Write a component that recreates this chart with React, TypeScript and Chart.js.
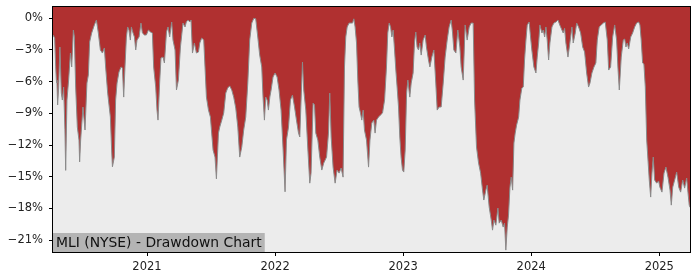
import React, { useEffect, useRef } from "react";
import { Chart, registerables } from "chart.js";

Chart.register(...registerables);

const title = "MLI (NYSE) - Drawdown Chart";
const yearTicks = [2021, 2022, 2023, 2024, 2025];
const pctTicks = [-21, -18, -15, -12, -9, -6, -3, 0];

// dates as decimal years
const dates = [
  2020.266, 2020.279, 2020.287, 2020.292, 2020.297, 2020.302, 2020.31, 2020.32, 2020.331, 2020.339,
  2020.349, 2020.359, 2020.365, 2020.375, 2020.388, 2020.402, 2020.412, 2020.425, 2020.433, 2020.443,
  2020.456, 2020.469, 2020.474, 2020.482, 2020.5, 2020.516, 2020.531, 2020.542, 2020.552, 2020.568,
  2020.589, 2020.605, 2020.62, 2020.636, 2020.652, 2020.667, 2020.677, 2020.693, 2020.714, 2020.724,
  2020.73, 2020.745, 2020.755, 2020.766, 2020.781, 2020.797, 2020.808, 2020.818, 2020.828, 2020.839,
  2020.849, 2020.859, 2020.87, 2020.878, 2020.891, 2020.902, 2020.912, 2020.922, 2020.938, 2020.953,
  2020.964, 2020.98, 2020.995, 2021.011, 2021.027, 2021.042, 2021.052, 2021.068, 2021.078, 2021.086,
  2021.099, 2021.109, 2021.125, 2021.136, 2021.152, 2021.164, 2021.177, 2021.193, 2021.203, 2021.219,
  2021.23, 2021.245, 2021.261, 2021.281, 2021.297, 2021.307, 2021.32, 2021.334, 2021.344, 2021.355,
  2021.37, 2021.386, 2021.402, 2021.412, 2021.427, 2021.443, 2021.464, 2021.48, 2021.495, 2021.505,
  2021.516, 2021.531, 2021.542, 2021.558, 2021.568, 2021.584, 2021.599, 2021.615, 2021.63, 2021.646,
  2021.662, 2021.677, 2021.693, 2021.709, 2021.724, 2021.74, 2021.755, 2021.771, 2021.787, 2021.802,
  2021.818, 2021.834, 2021.849, 2021.865, 2021.88, 2021.896, 2021.906, 2021.917, 2021.927, 2021.938,
  2021.948, 2021.959, 2021.969, 2021.984, 2022.0, 2022.016, 2022.031, 2022.047, 2022.063, 2022.078,
  2022.089, 2022.105, 2022.12, 2022.136, 2022.152, 2022.167, 2022.183, 2022.193, 2022.203, 2022.214,
  2022.224, 2022.24, 2022.255, 2022.271, 2022.281, 2022.297, 2022.308, 2022.318, 2022.334, 2022.349,
  2022.365, 2022.38, 2022.402, 2022.417, 2022.427, 2022.438, 2022.453, 2022.469, 2022.484, 2022.5,
  2022.516, 2022.531, 2022.542, 2022.552, 2022.563, 2022.578, 2022.594, 2022.605, 2022.615, 2022.625,
  2022.636, 2022.646, 2022.656, 2022.667, 2022.677, 2022.688, 2022.698, 2022.714, 2022.73, 2022.741,
  2022.755, 2022.771, 2022.781, 2022.792, 2022.808, 2022.823, 2022.839, 2022.855, 2022.87, 2022.88,
  2022.891, 2022.902, 2022.912, 2022.922, 2022.933, 2022.943, 2022.953, 2022.964, 2022.974, 2022.984,
  2022.995, 2023.005, 2023.016, 2023.027, 2023.037, 2023.052, 2023.063, 2023.078, 2023.089, 2023.099,
  2023.109, 2023.12, 2023.13, 2023.141, 2023.156, 2023.172, 2023.182, 2023.198, 2023.209, 2023.224,
  2023.24, 2023.255, 2023.266, 2023.281, 2023.297, 2023.313, 2023.328, 2023.344, 2023.359, 2023.375,
  2023.386, 2023.396, 2023.412, 2023.427, 2023.443, 2023.453, 2023.469, 2023.484, 2023.5, 2023.516,
  2023.531, 2023.547, 2023.558, 2023.573, 2023.589, 2023.605, 2023.62, 2023.63, 2023.646, 2023.656,
  2023.672, 2023.688, 2023.698, 2023.709, 2023.724, 2023.74, 2023.75, 2023.766, 2023.781, 2023.792,
  2023.802, 2023.813, 2023.823, 2023.834, 2023.844, 2023.855, 2023.865, 2023.875, 2023.886, 2023.902,
  2023.912, 2023.927, 2023.938, 2023.948, 2023.959, 2023.969, 2023.984, 2023.995, 2024.005, 2024.021,
  2024.037, 2024.047, 2024.058, 2024.068, 2024.084, 2024.094, 2024.105, 2024.115, 2024.125, 2024.136,
  2024.146, 2024.162, 2024.177, 2024.193, 2024.209, 2024.223, 2024.24, 2024.25, 2024.261, 2024.271,
  2024.287, 2024.302, 2024.318, 2024.328, 2024.344, 2024.355, 2024.37, 2024.386, 2024.402, 2024.417,
  2024.433, 2024.448, 2024.459, 2024.474, 2024.49, 2024.505, 2024.516, 2024.531, 2024.547, 2024.563,
  2024.578, 2024.594, 2024.605, 2024.62, 2024.636, 2024.652, 2024.667, 2024.677, 2024.688, 2024.703,
  2024.719, 2024.73, 2024.74, 2024.75, 2024.761, 2024.777, 2024.792, 2024.808, 2024.823, 2024.839,
  2024.849, 2024.859, 2024.87, 2024.88, 2024.891, 2024.902, 2024.912, 2024.922, 2024.933, 2024.943,
  2024.953, 2024.964, 2024.98, 2024.995, 2025.005, 2025.021, 2025.037, 2025.052, 2025.068, 2025.084,
  2025.094, 2025.105, 2025.12, 2025.136, 2025.152, 2025.167, 2025.183, 2025.198, 2025.214, 2025.224,
  2025.234, 2025.24,
];

// drawdown in percent
const drawdown = [
  -1.58, -1.87, -4.59, -5.85, -6.13, -8.21, -6.6, -2.72, -7.08, -7.74,
  -6.51, -10.5, -14.4, -7.74, -5.85, -3.29, -4.61, -1.11, -1.77, -6.51,
  -10.3, -11.53, -13.6, -11.5, -8.4, -10.58, -6.13, -5.37, -2.25, -1.39,
  -0.63, -0.16, -1.39, -3.0, -3.29, -2.81, -4.61, -7.08, -9.35, -12.48,
  -14.06, -13.14, -7.74, -6.13, -5.09, -4.61, -4.7, -7.46, -4.61, -1.77,
  -0.82, -1.11, -2.06, -0.82, -1.39, -1.77, -3.0, -2.06, -1.77, -0.45,
  -1.39, -1.58, -1.58, -1.11, -1.3, -1.39, -4.61, -6.51, -8.69, -9.64,
  -6.03, -3.76, -3.67, -4.23, -1.3, -0.82, -1.77, -0.35, -2.06, -3.0,
  -6.79, -5.85, -2.72, -0.45, -0.82, -0.35, -0.16, -0.35, -0.16, -3.29,
  -2.34, -3.29, -3.19, -2.34, -1.87, -2.06, -7.46, -8.69, -9.35, -10.87,
  -12.48, -13.14, -15.2, -10.87, -10.3, -9.64, -8.97, -7.08, -6.6, -6.4,
  -6.8, -7.46, -8.5, -10.3, -13.14, -12.19, -10.58, -9.35, -6.13, -2.06,
  -0.45, 0, -0.05, -1.77, -3.48, -4.61, -7.46, -9.64, -7.46, -7.74,
  -8.69, -7.46, -6.79, -5.56, -5.18, -5.56, -6.79, -8.69, -12.48, -16.43,
  -11.53, -10.3, -7.74, -7.27, -8.4, -9.64, -10.87, -11.24, -7.74, -4.14,
  -6.79, -8.69, -12.19, -15.61, -14.66, -8.02, -8.21, -10.87, -11.53, -13.14,
  -14.37, -13.71, -13.14, -10.87, -7.08, -11.24, -14.09, -15.61, -14.37, -14.66,
  -14.18, -15.04, -4.61, -1.77, -0.82, -0.45, -0.45, -0.45, -0.05, -0.82,
  -2.34, -5.85, -8.4, -8.97, -9.64, -8.69, -10.58, -11.53, -14.09, -11.53,
  -9.92, -9.64, -10.87, -9.64, -9.35, -9.16, -8.97, -7.74, -4.61, -1.39,
  -0.45, -0.82, -1.77, -1.11, -3.0, -4.9, -6.51, -8.4, -11.24, -13.14,
  -14.37, -14.56, -12.48, -7.08, -5.85, -7.46, -6.13, -5.18, -2.25, -1.3,
  -2.72, -3.0, -2.34, -3.48, -2.06, -1.58, -2.72, -3.95, -4.61, -3.67,
  -3.0, -6.13, -8.69, -8.4, -8.4, -6.13, -3.67, -2.06, -0.82, -0.16,
  -1.39, -3.0, -3.29, -1.11, -2.72, -4.61, -5.85, -0.63, -2.06, -0.82,
  -0.45, -0.45, -7.74, -12.19, -13.71, -14.66, -16.27, -17.21, -16.27, -15.8,
  -17.88, -19.11, -20.06, -19.11, -19.59, -17.97, -19.4, -19.11, -19.77, -19.4,
  -21.95, -19.77, -18.64, -15.99, -15.04, -16.27, -11.81, -10.87, -10.11, -9.35,
  -7.74, -6.6, -6.51, -3.95, -2.06, -0.63, -0.35, -1.77, -3.0, -4.61,
  -5.18, -3.67, -2.34, -0.63, -1.39, -1.11, -1.77, -0.82, -2.06, -3.95,
  -2.34, -0.82, -0.45, -0.35, -0.16, -0.63, -1.11, -1.39, -0.95, -2.34,
  -3.67, -2.34, -0.82, -2.34, -1.39, -0.45, -0.82, -1.39, -2.72, -3.19,
  -5.18, -6.51, -6.13, -5.18, -4.61, -4.23, -2.06, -0.82, -0.63, -0.45,
  -0.35, -2.06, -4.9, -4.61, -1.77, -0.63, -2.06, -4.61, -6.79, -3.67,
  -2.06, -1.96, -2.72, -2.34, -2.9, -1.77, -1.39, -0.82, -0.45, -0.35,
  -0.63, -2.06, -4.23, -4.33, -6.51, -11.53, -13.42, -15.32, -16.93, -14.66,
  -13.14, -15.32, -15.61, -15.4, -15.99, -16.46, -14.66, -14.09, -15.04, -16.27,
  -17.69, -15.99, -15.32, -14.56, -15.99, -16.46, -15.32, -16.08, -15.13, -16.46,
  -17.69, -17.9,
];

const RED = "#b03030";
const GRAY_FILL = "#ececec";

export default function App() {
  const ref = useRef<HTMLCanvasElement | null>(null);

  useEffect(() => {
    if (!ref.current) return;
    const points = dates.map((d, i) => ({ x: d, y: drawdown[i] }));

    const bgPlugin = {
      id: "bgPlugin",
      beforeDatasetsDraw(chart: any) {
        const { ctx, chartArea: a } = chart;
        ctx.save();
        ctx.fillStyle = RED;
        ctx.fillRect(a.left, a.top, a.right - a.left, a.bottom - a.top);
        ctx.restore();
      },
      afterDatasetsDraw(chart: any) {
        const { ctx, chartArea: a } = chart;
        ctx.save();
        ctx.font = "13.9px 'DejaVu Sans'";
        const w = ctx.measureText(title).width;
        ctx.fillStyle = "#b4b4b4";
        ctx.fillRect(a.left, 233, w + 6, a.bottom - 233);
        ctx.fillStyle = "#111";
        ctx.textBaseline = "alphabetic";
        ctx.fillText(title, a.left + 3, 247);
        ctx.strokeStyle = "#000";
        ctx.lineWidth = 1;
        ctx.strokeRect(a.left - 0.5, a.top - 0.5, a.right - a.left + 1, a.bottom - a.top + 1);
        ctx.restore();
      },
    };

    const tickFont = { family: "'DejaVu Sans'", size: 11.5 };

    const chart = new Chart(ref.current, {
      type: "line",
      data: {
        datasets: [
          {
            data: points,
            borderColor: "#8a8a8a",
            borderWidth: 1,
            backgroundColor: GRAY_FILL,
            fill: "start",
            pointRadius: 0,
            tension: 0,
          },
        ],
      },
      options: {
        animation: false,
        responsive: false,
        maintainAspectRatio: false,
        devicePixelRatio: 1,
        layout: { padding: { left: 0, top: 7, right: 10, bottom: 0 } },
        plugins: { legend: { display: false }, tooltip: { enabled: false } },
        scales: {
          x: {
            type: "linear",
            min: 2020.266,
            max: 2025.24,
            afterBuildTicks: (s: any) => {
              s.ticks = yearTicks.map((v) => ({ value: v }));
            },
            afterFit: (s: any) => {
              s.height = 28;
              s.paddingLeft = 0;
              s.paddingRight = 0;
            },
            grid: { drawOnChartArea: false, drawTicks: true, tickLength: 4, color: "#000" },
            border: { display: false },
            ticks: {
              font: tickFont,
              color: "#222",
              padding: 4,
              maxRotation: 0,
              autoSkip: false,
              callback: (v: any) => String(v),
            },
          },
          y: {
            type: "linear",
            min: -22.13,
            max: 1.07,
            afterBuildTicks: (s: any) => {
              s.ticks = pctTicks.map((v) => ({ value: v }));
            },
            afterFit: (s: any) => {
              s.width = 53;
              s.paddingTop = 0;
              s.paddingBottom = 0;
            },
            grid: { drawOnChartArea: false, drawTicks: true, tickLength: 4, color: "#000" },
            border: { display: false },
            ticks: {
              font: tickFont,
              color: "#222",
              padding: 6,
              autoSkip: false,
              callback: (v: any) => (v < 0 ? "\u2212" + Math.abs(v) : String(v)) + "%",
            },
          },
        },
      },
      plugins: [bgPlugin],
    });
    return () => chart.destroy();
  }, []);

  return (
    <div style={{ position: "fixed", left: 0, top: 0, width: 700, height: 280, background: "#fff" }}>
      <canvas ref={ref} width={700} height={280} style={{ display: "block", width: 700, height: 280 }} />
    </div>
  );
}
